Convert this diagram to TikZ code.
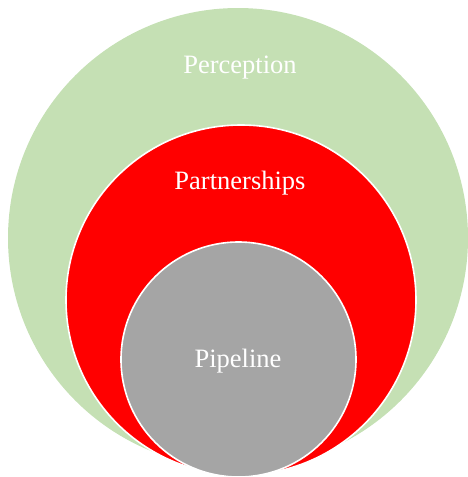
\documentclass[tikz,border=0pt]{standalone}
\usepackage{fontspec}
\setmainfont{Liberation Serif}
\usetikzlibrary{positioning}

\definecolor{ringgreen}{HTML}{C5E0B4}
\definecolor{ringred}{HTML}{FF0000}
\definecolor{ringgray}{HTML}{A5A5A5}

\begin{document}
\begin{tikzpicture}[x=1pt, y=-1pt,
    ring/.style={circle, draw=white, line width=1.6pt, inner sep=0pt},
    ringlabel/.style={text=white, anchor=base, inner sep=0pt, font=\fontsize{26.5}{30}\selectfont}]
      \useasboundingbox (0, 0) rectangle (468, 477);

      % nested circles, largest first
      \node[ring, draw=none, fill=ringgreen, minimum size=460pt] (perception) at (238, 238) {};
      \node[ring, fill=ringred, minimum size=350pt] (partnerships) at (241, 300) {};
      \node[ring, fill=ringgray, minimum size=235pt] (pipeline) at (238.5, 359.5) {};

      \node[ringlabel] (perceptiontext) at (240, 73) {Perception};
      \node[ringlabel] (partnershipstext) at (240, 189) {Partnerships};
      \node[ringlabel] (pipelinetext) at (238, 367) {Pipeline};

    \end{tikzpicture}
\end{document}
